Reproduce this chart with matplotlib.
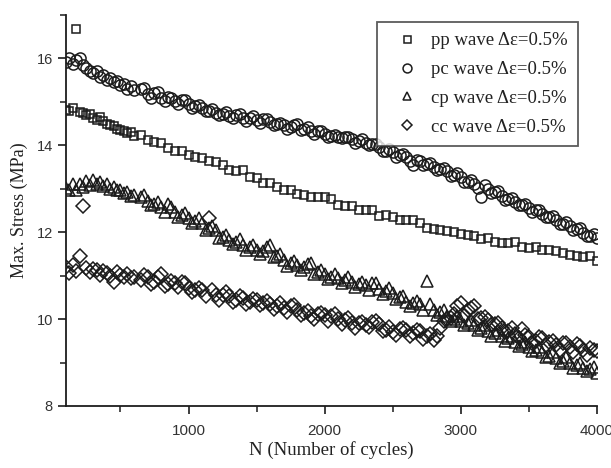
import matplotlib
matplotlib.use('Agg')
import matplotlib.pyplot as plt
from matplotlib.ticker import MultipleLocator

# ---------- data ----------
cycles = [100, 125, 150, 175, 200, 225, 250, 275, 300, 325, 350, 375, 400, 425, 450,
          475, 500, 525, 550, 575, 600, 650, 700, 750, 800, 850, 900, 950, 1000, 1050,
          1100, 1150, 1200, 1250, 1300, 1350, 1400, 1450, 1500, 1550, 1600, 1650, 1700,
          1750, 1800, 1850, 1900, 1950, 2000, 2050, 2100, 2150, 2200, 2250, 2300, 2350,
          2400, 2450, 2500, 2550, 2600, 2650, 2700, 2750, 2800, 2850, 2900, 2950, 3000,
          3050, 3100, 3150, 3200, 3250, 3300, 3350, 3400, 3450, 3500, 3550, 3600, 3650,
          3700, 3750, 3800, 3850, 3900, 3950, 4000]

# in-between cycle numbers, recorded for the pc / cp / cc tests only
cycles_mid = [675, 725, 775, 825, 875, 925, 975, 1025, 1075, 1125, 1175, 1225, 1275,
              1325, 1375, 1425, 1475, 1525, 1575, 1625, 1675, 1725, 1775, 1825, 1875,
              1925, 1975, 2025, 2075, 2125, 2175, 2225, 2275, 2325, 2375, 2425, 2475,
              2525, 2575, 2625, 2675, 2725, 2775, 2825, 2875, 2925, 2975, 3025, 3075,
              3125, 3175, 3225, 3275, 3325, 3375, 3425, 3475, 3525, 3575, 3625, 3675,
              3725, 3775, 3825, 3875, 3925, 3975]

pp_stress = [14.82, 14.80, 14.85, 16.68, 14.76, 14.74, 14.70, 14.72, 14.62, 14.58, 14.66,
             14.55, 14.50, 14.46, 14.44, 14.38, 14.36, 14.32, 14.28, 14.30, 14.22, 14.24,
             14.12, 14.08, 14.06, 13.94, 13.88, 13.86, 13.78, 13.74, 13.70, 13.64, 13.62,
             13.54, 13.44, 13.42, 13.44, 13.26, 13.24, 13.14, 13.14, 13.04, 12.98, 12.98,
             12.88, 12.86, 12.82, 12.82, 12.80, 12.76, 12.62, 12.60, 12.60, 12.52, 12.52,
             12.50, 12.38, 12.40, 12.34, 12.28, 12.28, 12.28, 12.22, 12.10, 12.08, 12.06,
             12.02, 12.00, 11.96, 11.94, 11.92, 11.84, 11.86, 11.78, 11.76, 11.76, 11.78,
             11.66, 11.64, 11.66, 11.60, 11.58, 11.56, 11.52, 11.48, 11.46, 11.42, 11.46,
             11.34]

pc_stress = [15.92, 16.02, 15.88, 15.97, 16.00, 15.85, 15.78, 15.72, 15.66, 15.70, 15.58,
             15.62, 15.50, 15.56, 15.45, 15.48, 15.38, 15.42, 15.30, 15.36, 15.27, 15.30,
             15.18, 15.20, 15.10, 15.12, 15.02, 15.05, 14.95, 14.90, 14.85, 14.80, 14.74,
             14.72, 14.68, 14.70, 14.62, 14.64, 14.58, 14.60, 14.53, 14.50, 14.46, 14.42,
             14.50, 14.38, 14.34, 14.32, 14.26, 14.22, 14.20, 14.18, 14.14, 14.10, 14.06,
             14.03, 13.96, 13.88, 13.84, 13.78, 13.72, 13.54, 13.63, 13.56, 13.50, 13.46,
             13.40, 13.32, 13.27, 13.16, 13.12, 12.80, 13.00, 12.92, 12.84, 12.76, 12.70,
             12.62, 12.56, 12.50, 12.42, 12.36, 12.28, 12.20, 12.14, 12.08, 11.98, 11.92,
             11.86]
pc_stress_mid = [15.32, 15.10, 15.22, 15.02, 15.10, 14.94, 15.04, 14.86, 14.92, 14.78,
                 14.84, 14.70, 14.76, 14.62, 14.72, 14.56, 14.68, 14.52, 14.60, 14.46,
                 14.52, 14.38, 14.46, 14.36, 14.42, 14.26, 14.34, 14.18, 14.24, 14.16,
                 14.20, 14.06, 14.14, 14.00, 14.04, 13.88, 13.92, 13.74, 13.80, 13.64,
                 13.66, 13.54, 13.60, 13.44, 13.48, 13.30, 13.36, 13.16, 13.20, 13.02,
                 13.08, 12.90, 12.94, 12.74, 12.78, 12.62, 12.64, 12.46, 12.52, 12.34,
                 12.38, 12.18, 12.24, 12.04, 12.10, 11.92, 11.96]

cp_stress = [13.02, 12.96, 13.10, 12.98, 13.12, 13.05, 13.18, 13.08, 13.20, 13.12, 13.16,
             13.06, 13.12, 13.00, 13.04, 12.96, 12.98, 12.90, 12.92, 12.84, 12.86, 12.80,
             12.72, 12.64, 12.58, 12.64, 12.46, 12.40, 12.32, 12.26, 12.22, 12.10, 12.06,
             11.90, 11.82, 11.78, 11.70, 11.66, 11.58, 11.56, 11.70, 11.46, 11.36, 11.28,
             11.24, 11.20, 11.30, 11.08, 11.04, 10.98, 10.94, 10.90, 10.86, 10.80, 10.78,
             10.82, 10.70, 10.64, 10.60, 10.50, 10.40, 10.36, 10.34, 10.88, 10.22, 10.16,
             10.06, 10.00, 9.96, 9.92, 9.86, 9.80, 9.72, 9.68, 9.60, 9.56, 9.48, 9.42,
             9.36, 9.30, 9.24, 9.16, 9.10, 9.04, 8.98, 8.94, 8.88, 8.84, 8.76]
cp_stress_mid = [12.86, 12.62, 12.70, 12.46, 12.58, 12.34, 12.44, 12.22, 12.32, 12.06,
                 12.14, 11.86, 11.94, 11.72, 11.84, 11.60, 11.70, 11.50, 11.66, 11.42,
                 11.50, 11.22, 11.34, 11.12, 11.26, 11.04, 11.14, 10.92, 11.04, 10.82,
                 10.96, 10.74, 10.86, 10.66, 10.84, 10.58, 10.72, 10.46, 10.54, 10.30,
                 10.42, 10.20, 10.34, 10.10, 10.20, 9.96, 10.08, 9.86, 9.98, 9.76,
                 9.86, 9.62, 9.74, 9.50, 9.62, 9.38, 9.48, 9.26, 9.36, 9.12,
                 9.24, 9.00, 9.12, 8.88, 9.00, 8.80, 8.90]

cc_stress = [11.20, 11.05, 11.25, 11.10, 11.45, 12.60, 11.18, 11.08, 11.16, 11.12, 11.02,
             11.10, 11.06, 11.00, 10.85, 11.08, 11.02, 10.98, 11.04, 10.94, 10.98, 10.90,
             10.96, 10.86, 11.04, 10.80, 10.82, 10.86, 10.72, 10.66, 10.68, 12.32, 10.56,
             10.56, 10.54, 10.44, 10.48, 10.40, 10.44, 10.36, 10.34, 10.30, 10.26, 10.30,
             10.22, 10.14, 10.06, 10.12, 10.10, 10.08, 10.00, 9.98, 9.92, 9.90, 9.86,
             9.94, 9.88, 9.76, 9.70, 9.78, 9.74, 9.68, 9.72, 9.62, 9.52, 9.80, 10.00,
             10.12, 10.38, 10.20, 10.30, 10.02, 9.98, 9.88, 9.80, 9.72, 9.66, 9.78, 9.58,
             9.50, 9.56, 9.48, 9.40, 9.44, 9.36, 9.42, 9.30, 9.34, 9.26]
cc_stress_mid = [11.02, 10.80, 10.98, 10.76, 10.88, 10.74, 10.82, 10.62, 10.72, 10.54,
                 10.66, 10.44, 10.62, 10.40, 10.54, 10.34, 10.46, 10.32, 10.42, 10.24,
                 10.36, 10.16, 10.32, 10.10, 10.18, 10.00, 10.14, 9.96, 10.12, 9.88,
                 10.02, 9.80, 9.94, 9.82, 9.96, 9.72, 9.82, 9.64, 9.80, 9.60,
                 9.76, 9.54, 9.66, 9.60, 9.96, 10.02, 10.30, 10.06, 10.26, 10.00,
                 10.04, 9.86, 9.92, 9.70, 9.80, 9.56, 9.64, 9.46, 9.58, 9.40,
                 9.50, 9.30, 9.44, 9.24, 9.38, 9.18, 9.30]

labels = ['pp wave \u0394\u03b5=0.5%', 'pc wave \u0394\u03b5=0.5%',
          'cp wave \u0394\u03b5=0.5%', 'cc wave \u0394\u03b5=0.5%']

# ---------- plot ----------
INK = '#1c1c1c'
serif = ['Liberation Serif', 'DejaVu Serif']
plt.rcParams['font.family'] = ['Liberation Sans', 'DejaVu Sans']

fig = plt.figure(figsize=(6.11, 4.68), dpi=100)
ax = fig.add_axes([0.108, 0.1325, 0.869, 0.8355])

series = [
    (cycles, pp_stress, None, None, 's', 6.3),
    (cycles, pc_stress, cycles_mid, pc_stress_mid, 'o', 8.0),
    (cycles, cp_stress, cycles_mid, cp_stress_mid, '^', 8.0),
    (cycles, cc_stress, cycles_mid, cc_stress_mid, 'D', 6.8),
]
style = dict(linestyle='none', markerfacecolor='none', markeredgecolor=INK, markeredgewidth=1.1)
for (x, y, xm, ym, mk, ms), lab in zip(series, labels):
    ax.plot(x, y, marker=mk, markersize=ms, label=lab, **style)
    if xm is not None:
        ax.plot(xm, ym, marker=mk, markersize=ms, **style)

ax.set_xlim(100, 4000)
ax.set_ylim(8, 17)
ax.xaxis.set_major_locator(MultipleLocator(1000))
ax.xaxis.set_minor_locator(MultipleLocator(500))
ax.yaxis.set_major_locator(MultipleLocator(2))
ax.yaxis.set_minor_locator(MultipleLocator(1))

for s in ['top', 'right']:
    ax.spines[s].set_visible(False)
for s in ['left', 'bottom']:
    ax.spines[s].set_color(INK)
    ax.spines[s].set_linewidth(1.3)

ax.tick_params(which='major', direction='out', length=6, width=1.2, color=INK,
               labelcolor='#333333')
ax.tick_params(axis='x', which='major', labelsize=11, pad=7)
ax.tick_params(axis='y', which='major', labelsize=10.5)
ax.tick_params(which='minor', direction='out', length=4, width=1.1, color=INK)

ax.set_xlabel('N (Number of cycles)', family=serif, fontsize=13.5, color='#222222', labelpad=2)
ax.set_ylabel('Max. Stress (MPa)', family=serif, fontsize=13, color='#222222', labelpad=6)

leg = ax.legend(loc='upper right', bbox_to_anchor=(0.964, 0.982), prop={'family': serif, 'size': 13.5},
                frameon=True, fancybox=False, edgecolor='#333333', handletextpad=0.3,
                borderpad=0.55, labelspacing=0.62, handlelength=2.0, borderaxespad=0.0,
                markerscale=0.8)
leg.get_frame().set_linewidth(1.3)
for t in leg.get_texts():
    t.set_color('#222222')

fig.savefig('out.png', dpi=100)
